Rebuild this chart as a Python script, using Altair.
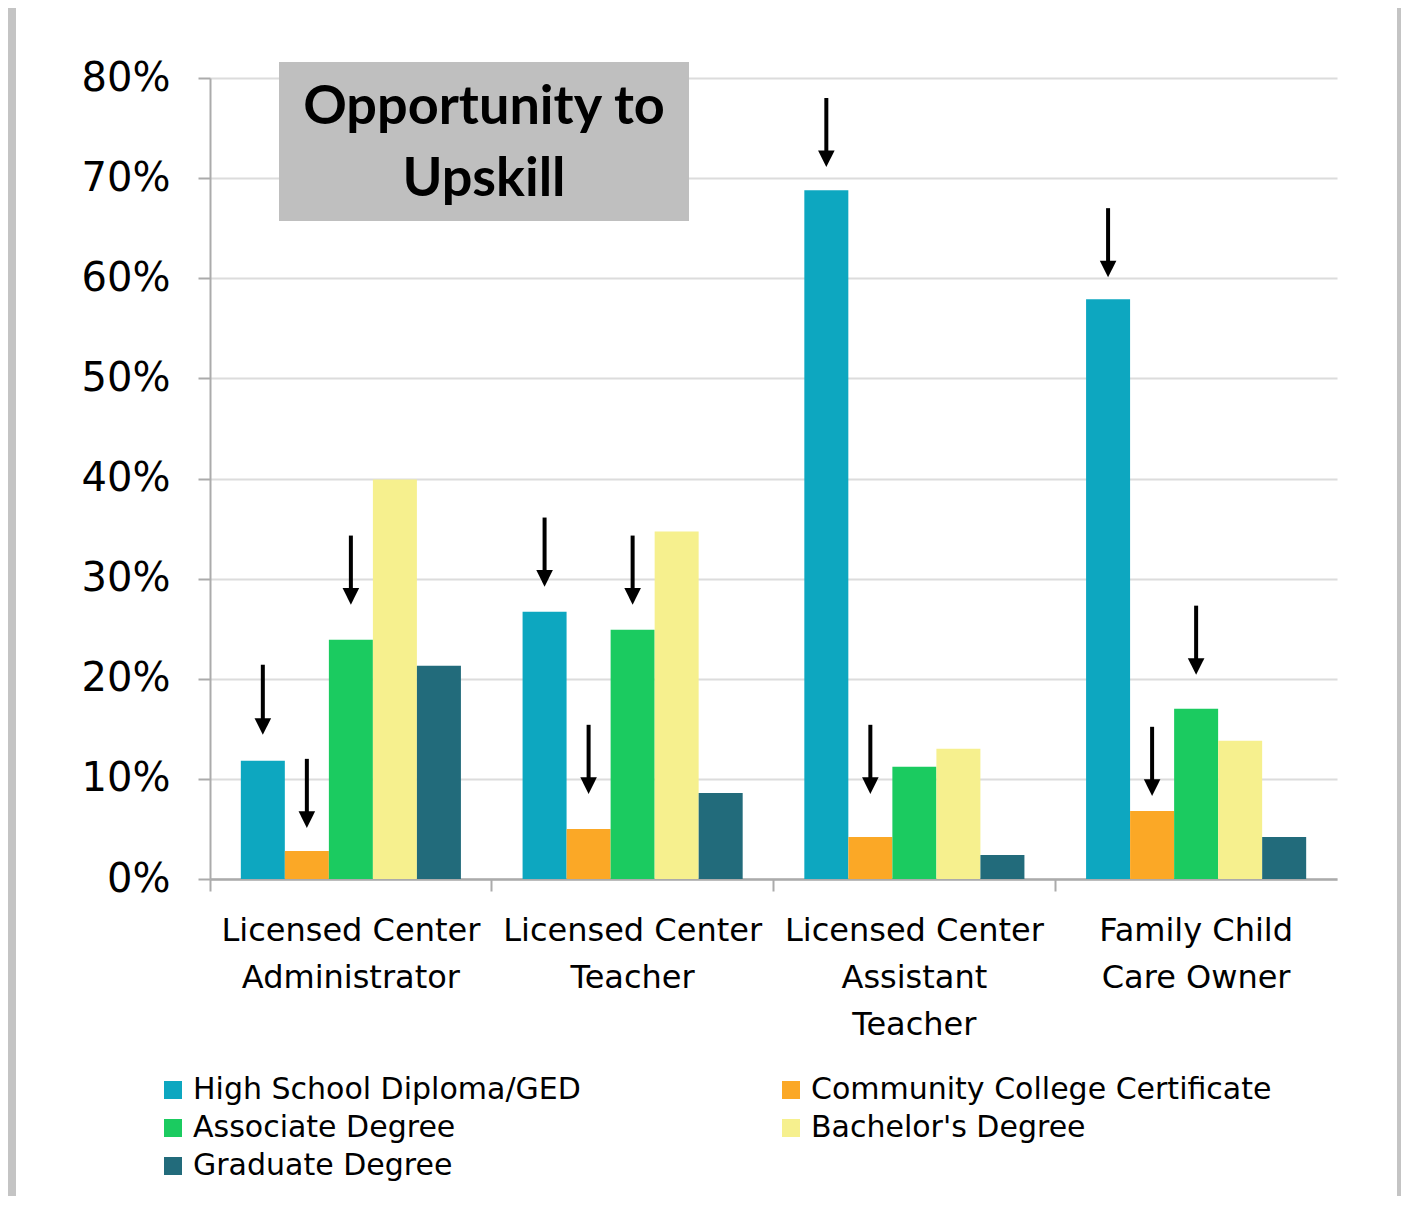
import altair as alt
import pandas as pd

# ---- data ----
groups = [
    "Licensed Center|Administrator",
    "Licensed Center|Teacher",
    "Licensed Center|Assistant|Teacher",
    "Family Child|Care Owner",
]
series = [
    "High School Diploma/GED",
    "Community College Certificate",
    "Associate Degree",
    "Bachelor's Degree",
    "Graduate Degree",
]
colors = ["#0DA7C0", "#FBA826", "#1BCB60", "#F6F08E", "#226B7B"]

hs_values = [0.118, 0.267, 0.688, 0.579]
cc_values = [0.028, 0.050, 0.042, 0.068]
assoc_values = [0.239, 0.249, 0.112, 0.170]
bach_values = [0.399, 0.347, 0.130, 0.138]
grad_values = [0.213, 0.086, 0.024, 0.042]

# arrows (annotation): group index, series index, tip value, tail value
arrow_group_idx = [0, 0, 0, 1, 1, 1, 2, 2, 3, 3, 3]
arrow_series_idx = [0, 1, 2, 0, 1, 2, 0, 1, 0, 1, 2]
arrow_tip = [0.144, 0.051, 0.274, 0.292, 0.085, 0.274, 0.711, 0.085, 0.601, 0.083, 0.204]
arrow_tail = [0.214, 0.120, 0.343, 0.361, 0.154, 0.343, 0.780, 0.154, 0.670, 0.152, 0.273]

title_text = ["Opportunity to\nUpskill"]

# ---- tables ----
all_values = [hs_values, cc_values, assoc_values, bach_values, grad_values]
rows = []
for si, s in enumerate(series):
    for gi, g in enumerate(groups):
        rows.append({"group": g, "series": s, "value": all_values[si][gi]})
bars_df = pd.DataFrame(rows)

arrows_df = pd.DataFrame({
    "group": [groups[i] for i in arrow_group_idx],
    "series": [series[i] for i in arrow_series_idx],
    "tip": arrow_tip,
    "tail": arrow_tail,
})

FONT = "DejaVu Sans"

x_enc = alt.X(
    "group:N",
    sort=groups,
    title=None,
    scale=alt.Scale(domain=groups, paddingInner=0, paddingOuter=0),
    axis=alt.Axis(
        labelExpr="split(datum.value, '|')",
        labelAngle=0,
        labelFont=FONT,
        labelFontSize=32,
        labelColor="black",
        labelLineHeight=47,
        labelPadding=24,
        labelLimit=400,
        bandPosition=0,
        tickSize=12,
        tickWidth=2,
        tickColor="#ABABAB",
        domainColor="#ABABAB",
        domainWidth=2.5,
        grid=False,
    ),
)
xoff_enc = alt.XOffset(
    "series:N",
    scale=alt.Scale(domain=series, paddingInner=0, paddingOuter=0.7),
)
y_scale = alt.Scale(domain=[0, 0.8], nice=False)

bars = alt.Chart(bars_df).mark_bar(size=44).encode(
    x=x_enc,
    xOffset=xoff_enc,
    y=alt.Y(
        "value:Q",
        scale=y_scale,
        title=None,
        axis=alt.Axis(
            format=".0%",
            values=[0, 0.1, 0.2, 0.3, 0.4, 0.5, 0.6, 0.7, 0.8],
            labelFont=FONT,
            labelFontSize=40,
            labelColor="black",
            labelPadding=28,
            tickSize=12,
            tickWidth=2,
            tickColor="#ABABAB",
            domainColor="#ABABAB",
            domainWidth=2,
            gridColor="#DCDCDC",
            gridWidth=2,
        ),
    ),
    color=alt.Color(
        "series:N",
        scale=alt.Scale(domain=series, range=colors),
        legend=alt.Legend(
            orient="none",
            legendX=-52,
            legendY=997,
            columns=2,
            direction="horizontal",
            title=None,
            symbolType="square",
            symbolSize=324,
            symbolStrokeWidth=0,
            labelFont=FONT,
            labelFontSize=30,
            labelColor="black",
            labelLimit=700,
            labelOffset=5,
            columnPadding=195,
            rowPadding=8,
        ),
    ),
)

shafts = alt.Chart(arrows_df).transform_calculate(
    shaft_end="datum.tip + 0.01"
).mark_rule(strokeWidth=4, color="black").encode(
    x=alt.X("group:N", sort=groups),
    xOffset=alt.XOffset("series:N"),
    y=alt.Y("tail:Q", scale=y_scale),
    y2="shaft_end:Q",
)

heads = alt.Chart(arrows_df).mark_point(
    shape="M-0.5,-1L0.5,-1L0,0Z",
    size=1100,
    filled=True,
    color="black",
    opacity=1,
    strokeWidth=0,
).encode(
    x=alt.X("group:N", sort=groups),
    xOffset=alt.XOffset("series:N"),
    y=alt.Y("tip:Q", scale=y_scale),
)

title_df = pd.DataFrame({"t": title_text})
box = alt.Chart(title_df).mark_rect(color="#BFBFBF").encode(
    x=alt.value(69), x2=alt.value(479), y=alt.value(-16), y2=alt.value(143)
)
box_text = alt.Chart(title_df).mark_text(
    font="Lato",
    fontSize=54,
    fontWeight="bold",
    color="black",
    lineBreak="\n",
    lineHeight=72,
    align="center",
    baseline="middle",
).encode(x=alt.value(274), y=alt.value(30), text="t:N")

# slide frame (gray edges around the white slide)
frame_df = pd.DataFrame({"k": ["frame"]})
frame_left = alt.Chart(frame_df).mark_rect(color="#C4C4C4").encode(
    x=alt.value(-202), x2=alt.value(-194), y=alt.value(-70), y2=alt.value(1118)
)
frame_right = alt.Chart(frame_df).mark_rect(color="#C4C4C4").encode(
    x=alt.value(1187), x2=alt.value(1191), y=alt.value(-70), y2=alt.value(1118)
)

chart = alt.layer(frame_left, frame_right, bars, shafts, heads, box, box_text).properties(
    width=1127,
    height=801,
    padding={"left": 0, "top": 0, "right": 0, "bottom": 0},
    background="white",
).configure_view(stroke=None)

chart.save("out.html", embed_options={"renderer": "svg", "actions": False})
